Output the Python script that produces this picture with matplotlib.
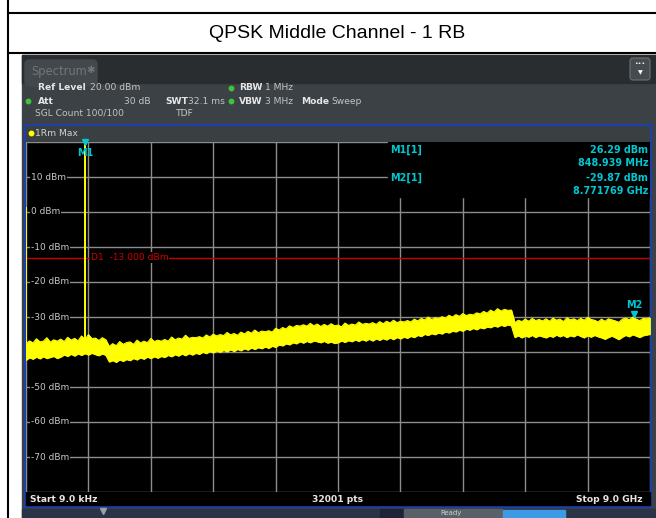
import numpy as np
import matplotlib.pyplot as plt
from matplotlib.patches import Rectangle, FancyBboxPatch
from matplotlib import transforms

# Sweep settings
start_ghz = 0.000009
stop_ghz = 9.0
ref_level = 20
y_bottom = -80
d1_level = -13.0

# Markers
m1_freq, m1_level = 0.848939, 26.29
m2_freq, m2_level = 8.771769, -29.87
lo_level = 1.4   # LO feedthrough at the start frequency

# Max-hold trace envelope, one value every 0.05 GHz (dBm)
trace_lower = [
    -42.3, -41.6, -42.0, -41.4, -41.9, -41.3, -41.8, -41.5, -41.2, -41.8,
    -41.4, -40.8, -41.2, -40.6, -41.1, -40.5, -40.9, -40.4, -40.8, -40.3,
    -40.7, -41.0, -40.5, -40.9, -42.8, -42.4, -42.9, -42.2, -42.6, -42.1,
    -42.4, -41.8, -42.2, -41.6, -42.0, -41.4, -41.8, -41.3, -41.7, -41.2,
    -41.5, -40.9, -41.3, -40.7, -41.1, -40.5, -41.0, -40.4, -40.8, -40.3,
    -40.6, -40.0, -40.4, -39.8, -40.2, -39.6, -40.0, -39.5, -39.9, -39.3,
    -39.8, -39.2, -39.6, -39.0, -39.4, -38.8, -39.2, -38.7, -39.0, -38.5,
    -38.9, -38.3, -38.6, -37.9, -38.2, -37.6, -37.9, -37.3, -37.6, -37.0,
    -37.4, -36.9, -37.3, -36.8, -37.0, -37.3, -36.9, -37.4, -37.1, -37.5,
    -37.3, -36.8, -37.2, -36.7, -37.0, -36.5, -36.9, -36.4, -36.8, -36.3,
    -36.8, -36.2, -36.6, -36.1, -36.5, -35.9, -36.4, -35.8, -36.2, -35.7,
    -36.0, -35.5, -35.8, -35.2, -35.5, -34.9, -35.2, -34.7, -35.0, -34.5,
    -34.8, -34.2, -34.5, -34.0, -34.2, -33.7, -34.0, -33.4, -33.7, -33.2,
    -33.6, -33.0, -33.3, -32.8, -33.0, -32.5, -32.8, -32.3, -32.6, -32.2,
    -32.5, -35.8, -35.3, -35.9, -35.4, -35.7, -35.2, -35.8, -35.3, -35.6,
    -35.9, -35.4, -35.7, -35.1, -35.6, -35.2, -35.8, -35.3, -35.6, -35.0,
    -35.5, -35.9, -35.3, -35.7, -35.2, -35.6, -35.9, -36.3, -35.8, -35.4,
    -35.9, -36.4, -35.7, -35.2, -35.6, -35.0, -35.4, -35.8, -35.3, -35.1,
    -34.9]
trace_upper = [
    -37.6, -36.8, -37.4, -36.2, -37.1, -36.9, -35.9, -37.2, -36.5, -36.9,
    -36.3, -37.0, -35.8, -36.6, -36.1, -36.8, -35.4, -36.4, -35.0, -36.2,
    -36.0, -36.7, -35.9, -36.5, -38.4, -37.6, -38.2, -37.0, -37.8, -37.3,
    -37.1, -37.8, -36.6, -37.4, -36.9, -37.3, -36.1, -37.0, -36.6, -36.9,
    -36.4, -36.9, -35.7, -36.5, -36.0, -36.3, -35.2, -36.1, -35.8, -35.9,
    -35.6, -36.0, -35.1, -35.7, -34.9, -35.4, -35.0, -35.3, -34.4, -35.1,
    -34.7, -35.2, -34.3, -34.8, -34.1, -34.6, -33.7, -34.5, -34.0, -34.2,
    -33.9, -34.3, -33.2, -33.7, -33.0, -33.4, -32.5, -33.0, -32.4, -32.6,
    -32.2, -32.6, -31.8, -32.5, -32.0, -32.7, -32.1, -32.6, -31.9, -32.5,
    -32.3, -32.8, -31.7, -32.4, -32.0, -32.3, -31.4, -32.1, -31.8, -32.0,
    -31.6, -32.1, -31.3, -31.9, -31.2, -31.7, -30.9, -31.6, -31.2, -31.4,
    -31.0, -31.4, -30.6, -31.1, -30.4, -30.8, -30.0, -30.7, -30.2, -30.4,
    -29.9, -30.3, -29.5, -30.0, -29.3, -29.8, -29.0, -29.6, -29.2, -29.4,
    -28.8, -29.1, -28.4, -28.9, -28.0, -28.6, -27.6, -28.3, -27.8, -28.1,
    -28.0, -31.6, -30.9, -31.3, -30.6, -31.2, -30.4, -31.0, -30.7, -31.1,
    -30.5, -31.2, -30.3, -30.9, -30.6, -31.3, -30.2, -30.8, -30.5, -31.0,
    -30.4, -30.9, -30.1, -30.7, -30.9, -31.4, -30.6, -31.2, -30.5, -30.8,
    -31.1, -31.5, -30.6, -30.3, -30.8, -30.0, -30.6, -31.0, -30.4, -30.5,
    -30.2]

y_ticks = [10, 0, -10, -20, -30, -40, -50, -60, -70]
title = 'QPSK Middle Channel - 1 RB'

freq = np.linspace(0.0, stop_ghz, len(trace_upper))
m1_idx = int(np.argmin(np.abs(freq - m1_freq)))

W, H = 656, 518
fig = plt.figure(figsize=(W / 100, H / 100), dpi=100)
fig.patch.set_facecolor('white')

# pixel canvas for the document table and the instrument frame
bg = fig.add_axes([0, 0, 1, 1])
bg.set_xlim(0, W)
bg.set_ylim(H, 0)
bg.axis('off')

# table borders and title
bg.plot([8, 8], [0, H], color='black', lw=1.5)
bg.plot([8, W], [13, 13], color='black', lw=1.5)
bg.plot([8, W], [53, 53], color='black', lw=1.5)
bg.text(337, 33, title, ha='center', va='center', fontsize=14,
        family='Liberation Sans')

# instrument screen
bg.add_patch(Rectangle((22, 55), W - 22, H - 55, color='#3c4145'))
bg.add_patch(Rectangle((22, 55), W - 22, 28, color='#2a2d30'))
bg.add_patch(FancyBboxPatch((25, 60), 72, 26, boxstyle='round,pad=0,rounding_size=4',
                            color='#43484c'))
bg.text(31, 71, 'Spectrum', color='#70767b', fontsize=8.3, va='center')
bg.text(86, 70, '\u2731', color='#70767b', fontsize=7.5, va='center')
bg.add_patch(FancyBboxPatch((630, 58), 20, 22, boxstyle='round,pad=0,rounding_size=3',
                            facecolor='#464b4f', edgecolor='#6a7074', lw=0.8))
bg.text(640, 64, '\u2022\u2022\u2022', color='white', fontsize=4.5, ha='center', va='center')
bg.text(640, 73, '\u25BC', color='white', fontsize=4.5, ha='center', va='center')

hdr = dict(fontsize=6.6, va='center')
lab = dict(color='#e6e6e6', fontweight='bold', **hdr)
val = dict(color='#c4c4c4', **hdr)
bg.text(38, 88, 'Ref Level', **lab)
bg.text(90, 88, '20.00 dBm', **val)
bg.text(38, 101, 'Att', **lab)
bg.text(151, 101, '30 dB', ha='right', **val)
bg.text(165, 101, 'SWT', **lab)
bg.text(188, 101, '32.1 ms', **val)
bg.text(35, 113, 'SGL Count 100/100', **val)
bg.text(176, 113, 'TDF', **val)
for yy in (88, 101):
    bg.plot(231, yy, 'o', color='#3cc43c', ms=3.2)
bg.plot(28, 101, 'o', color='#3cc43c', ms=3.2)
bg.text(239, 88, 'RBW', **lab)
bg.text(265, 88, '1 MHz', **val)
bg.text(239, 101, 'VBW', **lab)
bg.text(265, 101, '3 MHz', **val)
bg.text(301, 101, 'Mode', **lab)
bg.text(331, 101, 'Sweep', **val)

# trace window frame
bg.add_patch(Rectangle((25, 125), 626, 382, facecolor='#3a3f42',
                       edgecolor='#1f3fa8', lw=1.6))
bg.plot(31, 133, 'o', color='#ffff00', ms=3.2)
bg.text(35, 133, '1Rm Max', color='#d0d0d0', **hdr)
bg.add_patch(Rectangle((26, 492), 624, 13, color='black'))
bg.text(30, 499, 'Start 9.0 kHz', color='#e6e6e6', fontweight='bold', **hdr)
bg.text(338, 499, '32001 pts', color='#e6e6e6', fontweight='bold', ha='center', **hdr)
bg.text(643, 499, 'Stop 9.0 GHz', color='#e6e6e6', fontweight='bold', ha='right', **hdr)

# status bar
bg.add_patch(Rectangle((22, 509), W - 22, 9, color='#2b3346'))
bg.add_patch(Rectangle((380, 509), 24, 9, color='#1d2438'))
bg.add_patch(Rectangle((404, 509), 98, 9, color='#596067'))
bg.add_patch(Rectangle((503, 510), 62, 8, color='#3d9ae6'))
bg.text(440, 513.5, 'Ready', color='#d0d0d0', fontsize=5, va='center')
bg.plot(103, 511, 'v', color='#9aa0a6', ms=4)

# spectrum trace axes
ax = fig.add_axes([26 / W, (H - 492) / H, 624 / W, 350 / H])
ax.set_facecolor('black')
ax.set_xlim(0, stop_ghz)
ax.set_ylim(y_bottom, ref_level)
ax.set_xticks(np.linspace(0, stop_ghz, 11))
ax.set_yticks(np.arange(y_bottom, ref_level + 1, 10))
ax.grid(True, color='#8c8c8c', lw=1.0)
ax.tick_params(length=0, labelbottom=False, labelleft=False)
for s in ax.spines.values():
    s.set_visible(False)

ax.axhline(d1_level, color='#c80000', lw=1.0, zorder=3)

ax.fill_between(freq, trace_lower, trace_upper, color='#ffff00', lw=0.6, zorder=4)
ax.plot(freq, trace_upper, color='#ffff00', lw=0.7, zorder=4)
ax.plot(freq, trace_lower, color='#ffff00', lw=0.7, zorder=4)
ax.vlines([start_ghz, m1_freq], [trace_lower[0], trace_lower[m1_idx]], [lo_level, m1_level],
          color='#ffff00', lw=1.4, zorder=4)

# marker table area hides the grid
ax.add_patch(Rectangle((0.58, 0.843), 0.42, 0.157, transform=ax.transAxes,
                       color='black', zorder=2.5))

cyan = '#00c8d2'
mk = dict(color=cyan, fontsize=6.9, fontweight='bold', va='center', zorder=6)
ax.plot(m1_freq, ref_level, 'v', color=cyan, ms=4, clip_on=False, zorder=6)
ax.text(m1_freq, 16.8, 'M1', ha='center', **mk)
ax.plot(m2_freq, m2_level + 0.8, 'v', color=cyan, ms=4, zorder=6)
ax.text(m2_freq, m2_level + 3.3, 'M2', ha='center', **mk)

ax.text(0.584, 0.977, 'M1[1]', transform=ax.transAxes, **mk)
ax.text(0.584, 0.897, 'M2[1]', transform=ax.transAxes, **mk)
ax.text(0.997, 0.977, f'{m1_level:.2f} dBm', ha='right', transform=ax.transAxes, **mk)
ax.text(0.997, 0.94, f'{m1_freq * 1000:.3f} MHz', ha='right', transform=ax.transAxes, **mk)
ax.text(0.997, 0.897, f'{m2_level:.2f} dBm', ha='right', transform=ax.transAxes, **mk)
ax.text(0.997, 0.86, f'{m2_freq:.6f} GHz', ha='right', transform=ax.transAxes, **mk)

# level labels sit on the grid lines, under the trace
blend = transforms.blended_transform_factory(ax.transAxes, ax.transData)
for v in y_ticks:
    ax.text(0.008, v, f'{v} dBm', transform=blend, color='#c8c8c8', fontsize=6.5,
            va='center', zorder=3.5,
            bbox=dict(facecolor='black', edgecolor='none', pad=0.6))
ax.text(0.104, d1_level, f'D1  {d1_level:.3f} dBm', transform=blend, color='#d00000',
        fontsize=6.6, va='center', zorder=3.5,
        bbox=dict(facecolor='black', edgecolor='none', pad=0.6))

fig.savefig('out.png', dpi=100)
